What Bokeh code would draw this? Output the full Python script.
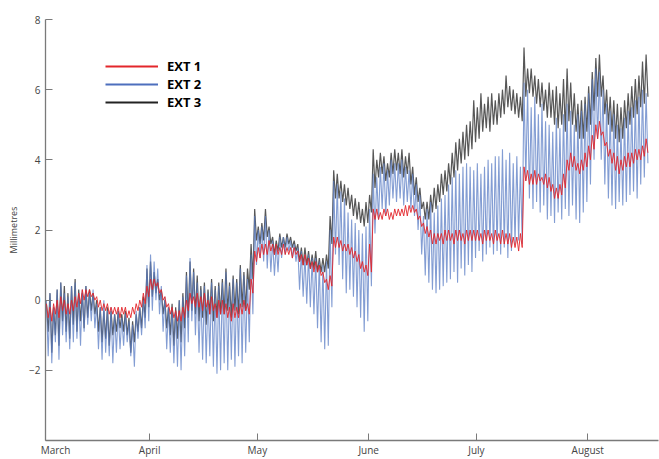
from bokeh.plotting import figure
from bokeh.models import Range1d, FixedTicker, Legend, LegendItem, ColumnDataSource
from bokeh.embed import file_html
from bokeh.resources import INLINE

# ---- data (days counted from 1 March = day 0); one high and one low reading per day ----
first_day = 2  # 3 March
axis_start_day = 2
month_days = [31, 61, 92, 122, 153]
month_names = ["April", "May", "June", "July", "August"]

ext1_hi = [
    -0.1, -0.2, -0.1, 0.0, 0.1, 0.0, -0.1,
    0.0, 0.1, 0.2, 0.3, 0.3, 0.3, 0.2,
    0.1, 0.0, -0.1, -0.1, -0.2, -0.2, -0.2,
    -0.2, -0.2, -0.3, -0.2, -0.1, 0.0, 0.2,
    0.4, 0.6, 0.6, 0.5, 0.3, 0.1, -0.1,
    -0.2, -0.3, -0.3, -0.2, 0.0, 0.2, 0.1,
    0.2, 0.1, 0.2, 0.0, 0.1, -0.1, 0.0,
    0.0, -0.1, -0.2, -0.1, -0.2, -0.1, 0.0,
    -0.1, 0.6, 1.4, 1.5, 1.6, 1.6, 1.7,
    1.6, 1.6, 1.5, 1.6, 1.5, 1.5, 1.5,
    1.4, 1.3, 1.3, 1.2, 1.1, 1.1, 1.0,
    0.8, 0.6, 0.7, 1.8, 1.8, 1.7, 1.6,
    1.6, 1.5, 1.4, 1.3, 1.1, 1.0, 1.6,
    2.6, 2.6, 2.5, 2.6, 2.6, 2.5, 2.6,
    2.6, 2.6, 2.7, 2.7, 2.7, 2.6, 2.4,
    2.2, 2.1, 2.0, 1.9, 1.9, 1.9, 2.0,
    2.0, 1.9, 2.0, 2.0, 1.9, 2.0, 2.0,
    2.0, 2.0, 1.9, 2.0, 2.0, 1.9, 2.0,
    1.9, 2.0, 1.9, 1.9, 1.8, 1.8, 1.9,
    3.8, 3.7, 3.6, 3.7, 3.6, 3.5, 3.6,
    3.5, 3.3, 3.2, 3.3, 3.6, 4.0, 4.2,
    4.1, 3.9, 4.0, 4.2, 4.4, 4.7, 5.0,
    5.1, 4.8, 4.5, 4.3, 4.2, 4.1, 4.0,
    4.1, 4.2, 4.2, 4.3, 4.3, 4.4, 4.6,
]
ext1_lo = [
    -0.5, -0.6, -0.4, -0.5, -0.3, -0.4, -0.4,
    -0.3, -0.2, -0.1, 0.0, 0.1, 0.1, 0.0,
    -0.2, -0.3, -0.3, -0.4, -0.4, -0.4, -0.5,
    -0.4, -0.5, -0.5, -0.4, -0.3, -0.2, -0.1,
    0.1, 0.3, 0.4, 0.2, 0.0, -0.2, -0.4,
    -0.5, -0.6, -0.6, -0.5, -0.3, -0.1, -0.2,
    -0.2, -0.3, -0.2, -0.4, -0.3, -0.5, -0.4,
    -0.4, -0.5, -0.6, -0.5, -0.5, -0.4, -0.3,
    -0.4, 0.2, 1.1, 1.2, 1.3, 1.3, 1.4,
    1.3, 1.3, 1.3, 1.3, 1.3, 1.2, 1.3,
    1.1, 1.0, 1.0, 0.9, 0.8, 0.8, 0.7,
    0.5, 0.3, 0.4, 1.5, 1.5, 1.4, 1.4,
    1.3, 1.2, 1.1, 0.9, 0.8, 0.7, 0.8,
    2.3, 2.3, 2.3, 2.4, 2.3, 2.3, 2.4,
    2.4, 2.4, 2.4, 2.5, 2.5, 2.3, 2.1,
    1.9, 1.8, 1.6, 1.6, 1.7, 1.6, 1.7,
    1.7, 1.6, 1.7, 1.7, 1.6, 1.7, 1.7,
    1.7, 1.7, 1.6, 1.7, 1.7, 1.6, 1.7,
    1.6, 1.6, 1.6, 1.5, 1.5, 1.4, 1.5,
    3.4, 3.3, 3.3, 3.3, 3.4, 3.3, 3.2,
    3.1, 2.9, 2.9, 3.0, 3.2, 3.7, 3.8,
    3.7, 3.6, 3.7, 3.8, 4.0, 4.3, 4.6,
    4.7, 4.4, 4.1, 3.9, 3.7, 3.6, 3.7,
    3.8, 3.8, 3.9, 4.0, 4.0, 4.1, 4.2,
]
ext2_hi = [
    0.0, 0.2, -0.2, 0.3, 0.5, 0.2, 0.1,
    0.4, 0.5, 0.2, 0.3, 0.4, 0.2, 0.3,
    -0.1, -0.2, 0.0, -0.3, -0.2, -0.4, -0.3,
    -0.5, -0.4, -0.6, -0.7, -0.3, -0.2, 0.0,
    1.0, 1.3, 1.1, 0.9, 0.4, 0.1, -0.2,
    -0.2, -0.3, 0.0, 0.1, 0.7, 1.2, 0.8,
    0.5, 0.3, 0.4, 0.2, 0.5, 0.3, 0.4,
    0.5, 0.8, 0.4, 0.6, 0.5, 0.9, 0.7,
    0.6, 1.3, 2.4, 2.0, 2.1, 2.4, 2.0,
    1.7, 1.6, 1.8, 1.8, 1.8, 1.7, 1.6,
    1.5, 1.4, 1.3, 1.3, 1.2, 1.2, 1.1,
    1.0, 1.1, 2.0, 3.4, 3.3, 3.1, 2.9,
    2.5, 2.3, 2.2, 2.0, 1.9, 2.1, 2.6,
    3.6, 3.5, 3.8, 3.9, 3.7, 4.0, 3.9,
    3.9, 4.0, 3.8, 3.7, 3.6, 3.3, 3.0,
    2.4, 2.6, 2.8, 2.5, 2.7, 2.9, 3.0,
    3.3, 3.5, 3.7, 3.6, 3.8, 3.9, 3.8,
    3.7, 3.9, 3.6, 3.8, 4.0, 3.9, 4.1,
    4.1, 4.3, 4.0, 4.2, 3.9, 4.1, 3.8,
    6.2, 6.0, 5.5, 5.8, 5.3, 5.6, 5.1,
    5.0, 4.8, 5.2, 4.9, 5.3, 5.6, 5.4,
    5.0, 5.3, 5.4, 5.6, 5.9, 6.3, 6.6,
    6.5, 6.0, 5.6, 5.4, 5.3, 5.0, 4.9,
    5.2, 5.4, 5.5, 5.7, 5.8, 6.0, 5.9,
]
ext2_lo = [
    -1.6, -1.8, -1.2, -1.7, -1.0, -1.2, -1.4,
    -1.2, -1.1, -1.3, -0.9, -0.7, -0.6, -0.8,
    -1.4, -1.7, -1.5, -1.6, -1.8, -1.5, -1.4,
    -1.3, -1.2, -1.6, -1.9, -1.1, -1.0, -0.8,
    -0.6, -0.3, 0.0, -0.4, -0.9, -1.4, -1.5,
    -1.8, -1.9, -2.0, -1.6, -1.2, -0.6, -1.0,
    -1.5, -1.7, -1.8, -1.6, -1.9, -2.1, -2.0,
    -1.8, -2.0, -1.7, -1.9, -1.6, -1.8, -1.5,
    -1.2, -0.4, 1.0, 1.2, 1.1, 0.9, 0.8,
    0.7, 0.8, 1.2, 1.3, 1.4, 1.2, 1.1,
    0.3, 0.1, -0.1, -0.2, -0.4, -0.8, -1.2,
    -1.4, -1.3, -0.2, 1.3, 1.0, 0.6, 0.2,
    0.3, 0.1, -0.2, -0.5, -0.9, -0.6, 0.4,
    1.9, 2.3, 2.6, 2.4, 2.7, 2.9, 2.8,
    2.9, 2.7, 2.8, 2.6, 2.4, 2.0, 1.3,
    0.7, 0.5, 0.3, 0.2, 0.3, 0.4, 0.5,
    0.6, 0.8, 0.5, 0.9, 0.7, 1.0, 0.8,
    1.2, 1.4, 1.1, 1.3, 1.5, 1.3, 1.4,
    1.3, 1.5, 1.2, 1.4, 1.6, 1.7, 1.6,
    3.4, 2.9, 2.6, 2.8, 2.5, 2.7, 2.3,
    2.4, 2.2, 2.5, 2.3, 2.6, 2.4, 2.7,
    2.3, 2.2, 2.5, 2.8, 3.3, 4.0, 4.6,
    4.0, 3.3, 2.9, 2.7, 2.6, 2.8, 2.7,
    2.8, 3.0, 3.1, 2.9, 3.3, 3.5, 3.9,
]
ext3_hi = [
    -0.1, 0.2, -0.2, 0.3, 0.5, 0.4, 0.2,
    0.4, 0.6, 0.3, 0.2, 0.4, 0.3, 0.2,
    0.0, -0.2, -0.3, -0.2, -0.3, -0.4, -0.3,
    -0.4, -0.3, -0.5, -0.6, -0.4, -0.2, 0.1,
    0.9, 1.1, 0.8, 0.6, 0.3, 0.0, -0.2,
    -0.1, -0.2, 0.0, 0.2, 0.8, 1.1, 0.9,
    0.7, 0.4, 0.5, 0.3, 0.6, 0.4, 0.5,
    0.6, 0.9, 0.5, 0.7, 0.6, 1.0, 0.8,
    0.9, 1.6, 2.6, 2.1, 2.2, 2.6, 2.1,
    1.8, 1.7, 1.9, 1.8, 1.9, 1.8, 1.7,
    1.6, 1.5, 1.5, 1.4, 1.3, 1.4, 1.2,
    1.2, 1.3, 2.4, 3.7, 3.6, 3.4, 3.3,
    3.2, 3.0, 2.9, 2.8, 2.6, 2.8, 3.0,
    4.3, 4.0, 4.2, 4.1, 3.9, 4.2, 4.3,
    4.2, 4.3, 4.1, 4.2, 3.8, 3.5, 3.2,
    2.8, 2.8, 3.0, 3.2, 3.3, 3.6, 3.7,
    3.9, 4.2, 4.5, 4.6, 4.8, 5.0, 5.1,
    5.7, 5.5, 5.9, 5.6, 5.8, 5.9, 5.7,
    5.9, 6.0, 6.4, 6.1, 6.0, 5.9, 5.8,
    7.2, 6.6, 6.6, 6.4, 6.3, 6.2, 6.0,
    6.2, 6.0, 6.1, 5.9, 6.3, 6.6, 6.2,
    5.9, 5.6, 5.7, 5.8, 6.1, 6.5, 6.9,
    7.0, 6.4, 6.0, 5.8, 5.7, 5.6, 5.5,
    5.7, 5.9, 6.1, 6.3, 6.4, 6.8, 7.0,
]
ext3_lo = [
    -0.9, -1.5, -1.0, -1.3, -0.6, -0.9, -1.1,
    -0.7, -0.9, -0.6, -0.8, -0.5, -0.3, -0.4,
    -0.9, -1.2, -1.1, -1.3, -1.0, -0.9, -0.8,
    -0.9, -1.0, -1.5, -1.2, -0.9, -0.8, -0.5,
    -0.2, 0.1, 0.2, 0.0, -0.4, -0.8, -1.0,
    -1.3, -1.1, -1.2, -0.8, -0.5, -0.3, -0.4,
    -0.6, -0.5, -0.7, -0.4, -0.6, -0.5, -0.4,
    -0.4, -0.3, -0.5, -0.3, -0.4, -0.2, -0.3,
    0.3, 0.6, 1.7, 1.6, 1.7, 1.8, 1.6,
    1.3, 1.4, 1.5, 1.5, 1.6, 1.5, 1.4,
    1.1, 1.0, 1.0, 0.9, 0.9, 0.8, 0.8,
    0.8, 0.9, 1.6, 2.9, 2.9, 2.8, 2.7,
    2.6, 2.4, 2.3, 2.2, 2.1, 2.2, 2.5,
    3.2, 3.5, 3.6, 3.4, 3.5, 3.6, 3.7,
    3.6, 3.5, 3.6, 3.3, 3.0, 2.8, 2.6,
    2.3, 2.3, 2.5, 2.6, 2.8, 3.0, 3.1,
    3.3, 3.5, 3.7, 3.9, 4.0, 4.1, 4.3,
    4.5, 4.6, 4.8, 4.9, 4.8, 5.0, 5.0,
    5.2, 5.3, 5.5, 5.4, 5.3, 5.2, 5.1,
    5.8, 5.9, 5.8, 5.6, 5.5, 5.4, 5.2,
    5.2, 5.0, 4.9, 5.0, 4.8, 5.1, 5.0,
    4.8, 4.6, 4.6, 4.8, 5.0, 5.4, 5.8,
    5.8, 5.3, 5.0, 4.8, 4.6, 4.5, 4.6,
    4.9, 5.0, 5.2, 5.3, 5.5, 5.6, 5.8,
]

series_names = ["EXT 1", "EXT 2", "EXT 3"]
colors = {"EXT 1": "#e3262b", "EXT 2": "#4d6fbd", "EXT 3": "#222222"}


def zigzag(hi, lo):
    xs, ys = [], []
    for i, (h, l) in enumerate(zip(hi, lo)):
        d = first_day + i
        xs += [d + 0.25, d + 0.75]
        ys += [h, l]
    return ColumnDataSource(dict(x=xs, y=ys))


FONT = "Open Sans"
p = figure(width=659, height=459, output_backend="svg", toolbar_location=None,
           x_range=Range1d(axis_start_day, 172.7), y_range=Range1d(-4, 8),
           min_border_left=45, min_border_top=19, min_border_right=1, min_border_bottom=16,
           background_fill_color="white", border_fill_color="white")
p.outline_line_color = None
p.xgrid.visible = False
p.ygrid.visible = False

# draw order: EXT 3 (black) below, EXT 2 (blue), EXT 1 (red) on top
p.line("x", "y", source=zigzag(ext3_hi, ext3_lo), line_color="#3a3a3a", line_width=1.2, line_alpha=0.85)
p.line("x", "y", source=zigzag(ext2_hi, ext2_lo), line_color="#5a7cc4", line_width=1.1, line_alpha=0.75)
p.line("x", "y", source=zigzag(ext1_hi, ext1_lo), line_color=colors["EXT 1"], line_width=1, line_alpha=0.9)

# legend swatches (thicker lines as in the original legend)
nan = float("nan")
items = []
for name in series_names:
    r = p.line(x=[nan], y=[nan], line_color=colors[name], line_width=2.2)
    items.append(LegendItem(label=name, renderers=[r]))
legend = Legend(items=items, location=(60, 329), glyph_width=53, glyph_height=18,
                label_height=18, label_standoff=9, spacing=0, padding=0, margin=0,
                border_line_color=None, background_fill_alpha=0,
                label_text_font=FONT, label_text_font_style="bold",
                label_text_font_size="13px", label_text_color="black",
                label_text_baseline="middle")
p.add_layout(legend, "center")

axis_col = "#7a7a7a"
for ax in (p.xaxis[0], p.yaxis[0]):
    ax.axis_line_color = axis_col
    ax.axis_line_width = 1.3
    ax.major_tick_line_color = axis_col
    ax.major_tick_in = 7
    ax.major_tick_out = 0
    ax.minor_tick_line_color = None
    ax.major_label_text_font = FONT
    ax.major_label_text_font_size = "10px"
    ax.major_label_text_color = "#444444"

# the "March" label sits at the start of the axis (its tick hides under the y spine)
p.xaxis.ticker = FixedTicker(ticks=[axis_start_day] + month_days)
overrides = {d: n for d, n in zip(month_days, month_names)}
overrides[axis_start_day] = "\u2003\u2003March"
p.xaxis.major_label_overrides = overrides
p.xaxis.major_label_standoff = 2

p.yaxis.ticker = FixedTicker(ticks=[-2, 0, 2, 4, 6, 8])
p.yaxis.major_label_standoff = 5
p.yaxis.axis_label = "Millimetres"
p.yaxis.axis_label_text_font = FONT
p.yaxis.axis_label_text_font_size = "9px"
p.yaxis.axis_label_text_font_style = "normal"
p.yaxis.axis_label_text_color = "#444444"
p.yaxis.axis_label_standoff = 6

open("out.html", "w").write(file_html(p, INLINE))
